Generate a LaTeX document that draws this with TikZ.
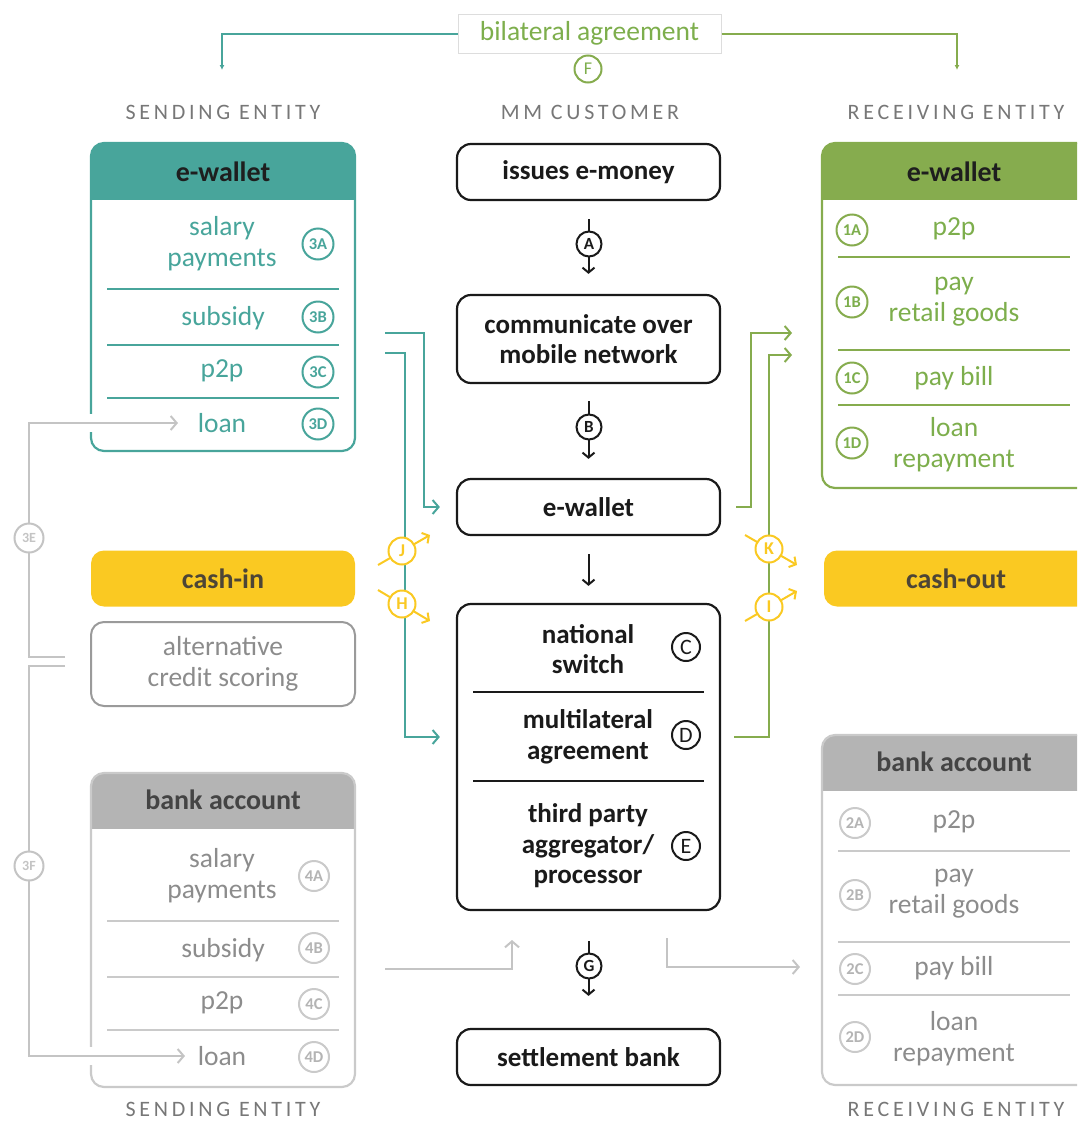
\documentclass[tikz,border=0pt]{standalone}
\usepackage{fontspec}
\setmainfont{Carlito}
\newfontfamily\spacedfont[LetterSpace=17]{Carlito}
\usetikzlibrary{arrows.meta,calc}
\definecolor{tealc}{HTML}{48A59B}
\definecolor{greenc}{HTML}{86AC4E}
\definecolor{greent}{HTML}{7DAE4C}
\definecolor{yell}{HTML}{FAC922}
\definecolor{grayl}{HTML}{C4C4C4}
\definecolor{grayt}{HTML}{8C8C8C}
\definecolor{grayh}{HTML}{B4B4B4}
\definecolor{grayb}{HTML}{CACACA}
\definecolor{altb}{HTML}{9A9A9A}
\definecolor{blk}{HTML}{1A1A1A}
\definecolor{hdrt}{HTML}{777777}
\definecolor{darkt}{HTML}{1E1E1E}
\definecolor{bankt}{HTML}{444444}
\definecolor{casht}{HTML}{4D4536}
\definecolor{bilb}{HTML}{DDDDDD}
\newcommand\itemfont{\fontsize{27.5}{31}\selectfont}
\newcommand\mbfont{\fontsize{27}{30.5}\selectfont\bfseries}
\newcommand\ttlfont{\fontsize{28}{30}\selectfont\bfseries}
\newcommand\bdgfont{\fontsize{16.5}{16.5}\selectfont\bfseries}
\newcommand\hdfont{\spacedfont\fontsize{22}{22}\selectfont}
\begin{document}
\begin{tikzpicture}[x=1pt,y=-1pt,
  chev/.style={-{Straight Barb[length=6pt,width=14pt]}},
  chevs/.style={-{Straight Barb[length=5pt,width=12pt]}},
  tl/.style={tealc,line width=2pt},
  gl/.style={greenc,line width=2pt},
  gyl/.style={grayl,line width=2pt},
  yl/.style={yell,line width=2pt},
  bl/.style={blk,line width=2pt},
  itemt/.style={font=\itemfont,align=center,inner sep=0pt},
  hdr/.style={font=\hdfont,text=hdrt,inner sep=0pt},
  ttl/.style={font=\ttlfont,inner sep=0pt},
  badge/.style={circle,draw=#1,text=#1,line width=2pt,minimum size=31pt,inner sep=0pt,fill=white,font=\bdgfont},
  mbox/.style={draw=blk,line width=2.2pt,rounded corners=14pt,minimum width=263pt,inner sep=0pt,fill=white,font=\mbfont,align=center,text=blk},
  mtext/.style={font=\mbfont,align=center,text=blk,inner sep=0pt},
  lcirc/.style={circle,draw=blk,line width=2pt,minimum size=28pt,inner sep=0pt,fill=white,text=blk,font=\fontsize{22}{22}\selectfont},
  scirc/.style={circle,draw=blk,line width=2pt,minimum size=25pt,inner sep=0pt,fill=white,text=blk,font=\fontsize{17}{17}\selectfont\bfseries},
  ycirc/.style={circle,draw=yell,line width=2pt,minimum size=27pt,inner sep=0pt,fill=white,text=yell,font=\fontsize{18}{18}\selectfont\bfseries},
  gcirc/.style={circle,draw=grayl,line width=2pt,minimum size=29pt,inner sep=0pt,fill=white,text=grayl,font=\fontsize{14}{14}\selectfont\bfseries},
  lbox/.style={draw=#1,line width=2.2pt,rounded corners=13pt,inner sep=0pt},
  cashbox/.style={fill=yell,rounded corners=13pt,inner sep=0pt,minimum height=56pt},
  casht/.style={font=\ttlfont,text=casht,inner sep=0pt},
  sep/.style={line width=1.5pt}
]
\useasboundingbox (0,0) rectangle (1077,1122);
\clip (0,0) rectangle (1077,1122);

% ---------- top ----------
\node[draw=bilb,line width=1pt,minimum width=263pt,minimum height=39pt,text=greent,font=\itemfont,inner sep=0pt] (bil) at (589.5,33.5) {bilateral agreement};
\node[circle,draw=greenc,line width=2pt,minimum size=27pt,inner sep=0pt,text=greent,font=\fontsize{18}{18}\selectfont] (cF) at (588,69) {F};
\coordinate (bl1) at (222,70);
\coordinate (bl2) at (957,70);
\draw[tl,-{Latex[length=5pt,width=5pt]}] (bil.west) -| (bl1);
\draw[gl,-{Latex[length=5pt,width=5pt]}] (bil.east) -| (bl2);

\node[hdr] (h1) at (223,112) {SENDING ENTITY};
\node[hdr] (h2) at (590,112) {MM CUSTOMER};
\node[hdr] (h3) at (956,112) {RECEIVING ENTITY};

% ---------- left e-wallet ----------
\begin{scope}
\clip[rounded corners=13pt] (91,143) rectangle (355,451);
\fill[tealc] (91,143) rectangle (355,200);
\end{scope}
\node[lbox=tealc,minimum width=264pt,minimum height=308pt] (sew) at (223,297) {};
\node[ttl,text=darkt] (sewt) at (223,172) {e-wallet};
\node[itemt,text=tealc] (s3a) at (222,244) {salary\\payments};
\node[itemt,text=tealc] (s3b) at (223,318) {subsidy};
\node[itemt,text=tealc] (s3c) at (222,371) {p2p};
\node[itemt,text=tealc] (s3d) at (222,423) {loan};
\draw[tealc,sep] (107,289) -- (339,289);
\draw[tealc,sep] (107,345) -- (339,345);
\draw[tealc,sep] (107,398) -- (339,398);
\node[badge=tealc] (b3a) at (318,244) {3A};
\node[badge=tealc] (b3b) at (318,317) {3B};
\node[badge=tealc] (b3c) at (318,372) {3C};
\node[badge=tealc] (b3d) at (318,424) {3D};

% ---------- cash-in / alt ----------
\node[cashbox,minimum width=264pt] (cin) at (223,578.5) {};
\node[casht] (cint) at (223,578.5) {cash-in};
\node[draw=altb,line width=2pt,rounded corners=13pt,minimum width=264pt,minimum height=84pt,text=grayt,font=\itemfont,align=center,inner sep=0pt] (alt) at (223,664) {alternative\\credit scoring};

% ---------- left bank ----------
\begin{scope}
\clip[rounded corners=13pt] (91,773) rectangle (355,1087);
\fill[grayh] (91,773) rectangle (355,829);
\end{scope}
\node[lbox=grayb,minimum width=264pt,minimum height=314pt] (sba) at (223,930) {};
\node[ttl,text=bankt] (sbat) at (223,800) {bank account};
\node[itemt,text=grayt] (s4a) at (222,876) {salary\\payments};
\node[itemt,text=grayt] (s4b) at (223,950) {subsidy};
\node[itemt,text=grayt] (s4c) at (222,1003) {p2p};
\node[itemt,text=grayt] (s4d) at (222,1056) {loan};
\draw[grayb,sep] (107,921) -- (339,921);
\draw[grayb,sep] (107,977) -- (339,977);
\draw[grayb,sep] (107,1030) -- (339,1030);
\node[badge=grayb,minimum size=30pt,text=grayh] (b4a) at (314,876) {4A};
\node[badge=grayb,minimum size=30pt,text=grayh] (b4b) at (314,948) {4B};
\node[badge=grayb,minimum size=30pt,text=grayh] (b4c) at (314,1004) {4C};
\node[badge=grayb,minimum size=30pt,text=grayh] (b4d) at (314,1057) {4D};
\node[hdr] (h4) at (223,1109) {SENDING ENTITY};

% ---------- middle ----------
\node[mbox,minimum height=56pt] (iss) at (588.5,172) {issues e-money};
\node[mbox,minimum height=88pt] (com) at (588.5,339) {communicate over\\mobile network};
\node[mbox,minimum height=56pt] (mew) at (588.5,507) {e-wallet};
\node[mbox,minimum height=306pt] (big) at (588.5,757) {};
\node[mbox,minimum height=56pt] (set) at (588.5,1057) {settlement bank};
\node[mtext] (ns) at (588,649) {national\\switch};
\node[mtext] (md) at (588,737) {multilateral\\agreement};
\node[mtext] (tp) at (588,846) {third party\\aggregator/\\processor};
\node[lcirc] (cC) at (686,647) {C};
\node[lcirc] (cD) at (686,735) {D};
\node[lcirc] (cE) at (686,846) {E};
\draw[bl] (473,692) -- (704,692);
\draw[bl] (473,781) -- (704,781);

\draw[bl,chevs,shorten <=18pt,shorten >=20pt] (iss) -- (com);
\node[scirc] (cA) at (589,244) {A};
\draw[bl,chevs,shorten <=17pt,shorten >=19pt] (com) -- (mew);
\node[scirc] (cB) at (589,427) {B};
\draw[bl,chevs,shorten <=18pt,shorten >=17pt] (mew) -- (big);
\draw[bl,chevs,shorten <=30pt,shorten >=32pt] (big) -- (set);
\node[scirc] (cG) at (589,966) {G};

% ---------- right e-wallet ----------
\begin{scope}
\clip[rounded corners=13pt] (822,143) rectangle (1100,488);
\fill[greenc] (822,143) rectangle (1100,200);
\end{scope}
\node[lbox=greenc,minimum width=278pt,minimum height=345pt] (rew) at (961,315.5) {};
\node[ttl,text=darkt] (rewt) at (954,172) {e-wallet};
\node[itemt,text=greent] (r1a) at (954,229) {p2p};
\node[itemt,text=greent] (r1b) at (954,302) {pay\\retail goods};
\node[itemt,text=greent] (r1c) at (954,378) {pay bill};
\node[itemt,text=greent] (r1d) at (954,445) {loan\\repayment};
\draw[greenc,sep] (838,257) -- (1070,257);
\draw[greenc,sep] (838,350) -- (1070,350);
\draw[greenc,sep] (838,405) -- (1070,405);
\node[badge=greenc,text=greent] (b1a) at (852,230) {1A};
\node[badge=greenc,text=greent] (b1b) at (852,302) {1B};
\node[badge=greenc,text=greent] (b1c) at (852,378) {1C};
\node[badge=greenc,text=greent] (b1d) at (852,443) {1D};

% ---------- cash-out ----------
\node[cashbox,minimum width=280pt] (cout) at (964,578.5) {};
\node[casht] (coutt) at (956,578.5) {cash-out};

% ---------- right bank ----------
\begin{scope}
\clip[rounded corners=13pt] (822,735) rectangle (1100,1085);
\fill[grayh] (822,735) rectangle (1100,791);
\end{scope}
\node[lbox=grayb,minimum width=278pt,minimum height=350pt] (rba) at (961,910) {};
\node[ttl,text=bankt] (rbat) at (954,762) {bank account};
\node[itemt,text=grayt] (r2a) at (954,822) {p2p};
\node[itemt,text=grayt] (r2b) at (954,894) {pay\\retail goods};
\node[itemt,text=grayt] (r2c) at (954,968) {pay bill};
\node[itemt,text=grayt] (r2d) at (954,1039) {loan\\repayment};
\draw[grayb,sep] (838,851) -- (1070,851);
\draw[grayb,sep] (838,942) -- (1070,942);
\draw[grayb,sep] (838,995) -- (1070,995);
\node[badge=grayb,minimum size=30pt,text=grayh] (b2a) at (855,823) {2A};
\node[badge=grayb,minimum size=30pt,text=grayh] (b2b) at (855,895) {2B};
\node[badge=grayb,minimum size=30pt,text=grayh] (b2c) at (855,969) {2C};
\node[badge=grayb,minimum size=30pt,text=grayh] (b2d) at (855,1037) {2D};
\node[hdr] (h5) at (956,1109) {RECEIVING ENTITY};

% ---------- teal connectors ----------
\coordinate (t1) at (385,333);
\coordinate (t2) at (385,353);
\draw[tl,chev] (t1) -- (424,333) |- ([xshift=-16pt]mew.west);
\draw[tl,chev] (t2) -- (405,353) |- ($(big.west |- md)+(-16,0)$);

% ---------- green connectors ----------
\coordinate (g1) at (792,333);
\coordinate (g2) at (792,355);
\draw[gl,chev] ([xshift=15pt]mew.east) -- (751,507) |- (g1);
\draw[gl,chev] ($(big.east |- md)+(13,0)$) -- (769,737) |- (g2);

% ---------- yellow cash arrows ----------
\coordinate (j0) at (378,565); \coordinate (j1) at (430,535);
\coordinate (h0) at (378,590); \coordinate (h1) at (430,621);
\coordinate (k0) at (745,535); \coordinate (k1) at (797,565);
\coordinate (i0) at (745,621); \coordinate (i1) at (797,591);
\draw[yl,chevs] (j0) -- (j1);
\draw[yl,chevs] (h0) -- (h1);
\draw[yl,chevs] (k0) -- (k1);
\draw[yl,chevs] (i0) -- (i1);
\node[ycirc] (cJ) at (402,551) {J};
\node[ycirc] (cH) at (402,604) {H};
\node[ycirc] (cK) at (769,549) {K};
\node[ycirc] (cI) at (769,607) {I};

% ---------- gray connectors ----------
\coordinate (e0) at (65,657);
\coordinate (e1) at (178,423);
\coordinate (f0) at (65,666);
\coordinate (f1) at (185,1056);
\fill[white] (84,414) rectangle (99,432);
\fill[white] (84,1047) rectangle (99,1065);
\draw[gyl,chev] (e0) -- (29,657) -- (29,423) -- (e1);
\draw[gyl,chev] (f0) -- (29,666) -- (29,1056) -- (f1);
\node[gcirc] (c3e) at (29,538) {3E};
\node[gcirc] (c3f) at (29,866) {3F};
\coordinate (bb0) at (385,969);
\coordinate (bb1) at (512,940);
\coordinate (rb0) at (667,938);
\coordinate (rb1) at (800,967);
\draw[gyl,chev] (bb0) -- (512,969) -- (bb1);
\draw[gyl,chev] (rb0) -- (667,967) -- (rb1);
\end{tikzpicture}
\end{document}
